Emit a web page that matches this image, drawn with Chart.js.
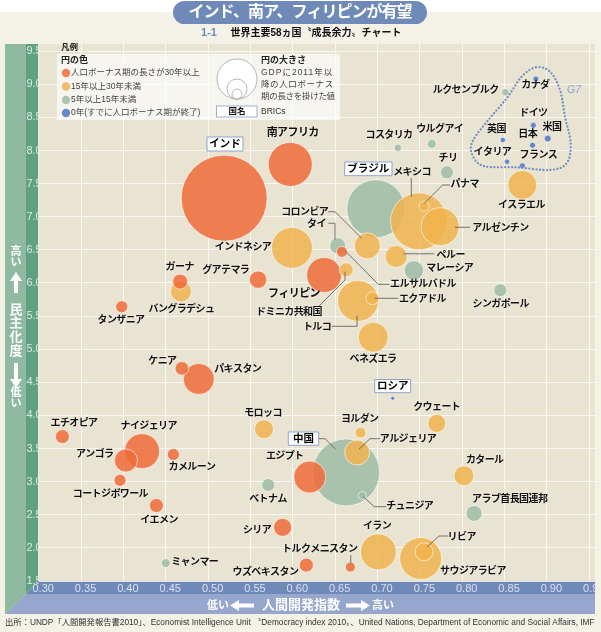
<!DOCTYPE html>
<html><head><meta charset="utf-8">
<style>html,body{margin:0;padding:0;background:#fff}canvas{display:block}</style>
<script src="https://cdn.jsdelivr.net/npm/chart.js@4/dist/chart.umd.min.js"></script>
</head><body><canvas id="c" width="601" height="632"></canvas>
<script>
const countries=["インド","南アフリカ","ルクセンブルク","カナダ","ドイツ","米国","英国","日本","イタリア","フランス","コスタリカ","ウルグアイ","チリ","イスラエル","ブラジル","メキシコ","パナマ","アルゼンチン","コロンビア","タイ","エルサルバドル","インドネシア","フィリピン","ドミニカ共和国","トルコ","エクアドル","ベネズエラ","ペルー","マレーシア","シンガポール","グアテマラ","ガーナ","バングラデシュ","タンザニア","ケニア","パキスタン","ロシア","モロッコ","エチオピア","ナイジェリア","アンゴラ","カメルーン","コートジボワール","イエメン","ベトナム","シリア","ミャンマー","ヨルダン","クウェート","アルジェリア","中国","エジプト","チュニジア","カタール","アラブ首長国連邦","イラン","サウジアラビア","リビア","トルクメニスタン","ウズベキスタン"];
const hdi=[.519,.597,.851,.887,.884,.901,.848,.883,.853,.871,.724,.764,.782,.871,.698,.749,.755,.774,.688,.653,.658,.599,.637,.663,.677,.694,.695,.722,.743,.845,.559,.467,.468,.398,.469,.489,.718,.566,.328,.422,.403,.459,.396,.439,.571,.588,.450,.680,.770,.676,.663,.620,.682,.802,.814,.701,.751,.755,.668,.616];
const democracy=[7.28,7.79,8.88,9.08,8.38,8.18,8.16,8.08,7.83,7.77,8.04,8.10,7.67,7.48,7.12,6.93,7.16,6.85,6.56,6.56,6.47,6.53,6.12,6.20,5.73,5.77,5.18,6.40,6.19,5.89,6.05,6.02,5.87,5.64,4.71,4.55,4.26,3.79,3.68,3.46,3.32,3.41,3.02,2.64,2.95,2.31,1.77,3.74,3.88,3.44,3.14,3.07,2.79,3.09,2.52,1.94,1.84,1.94,1.71,1.74];
const growthScore=[1849,484,14,9,9,12,7,9,7,9,14,20,42,210,841,812,25,361,169,64,30,420,306,49,420,42,225,121,94,42,76,56,110,36,46,240,4,90,49,306,132,36,36,49,42,81,20,30,81,156,1122,256,16,100,64,324,441,81,25,49];
const bonusGroup=[0,0,2,3,3,3,3,3,3,3,2,2,2,1,2,1,1,1,1,2,0,1,0,1,1,1,1,1,2,2,0,0,1,0,0,0,3,1,0,0,0,0,0,0,2,0,2,1,1,1,2,0,2,1,2,1,1,1,0,0];
const xTickValues=[.30,.35,.40,.45,.50,.55,.60,.65,.70,.75,.80,.85,.90,.95];
const yTickValues=[1.5,2,2.5,3,3.5,4,4.5,5,5.5,6,6.5,7,7.5,8,8.5,9,9.5];
const legendLabels=["人口ボーナス期の長さが30年以上","15年以上30年未満","5年以上15年未満","0年(すでに人口ボーナス期が終了)"];

const groupColors=["rgba(239,107,58,.85)","rgba(240,180,79,.85)","rgba(158,188,166,.85)","rgba(96,130,195,.95)"];
const CJK='"Liberation Sans","Noto Sans CJK JP"', LAT='"Liberation Sans"';
const labelPos=[["南アフリカ",293,133],["ルクセンブルク",466,90],["カナダ",535.7,85.7],["ドイツ",533.7,113.3],["英国",496.7,129.3],["米国",552.3,127.3],["日本",528,134.3],["イタリア",492.7,152.7],["フランス",538.7,155],["コスタリカ",389.3,135.3],["ウルグアイ",440,129.3],["チリ",448.3,158.3],["メキシコ",412.3,172.3],["パナマ",465,184.7],["イスラエル",521.7,205],["アルゼンチン",500.7,228.3],["コロンビア",305,212],["タイ",316.7,224.7],["インドネシア",243.3,247.7],["ペルー",451,255],["マレーシア",450,268.7],["エルサルバドル",423.3,284.7],["エクアドル",422.7,299],["シンガポール",501,304.3],["フィリピン",294.3,294],["ドミニカ共和国",289.3,312],["トルコ",317.3,327],["ベネズエラ",373.3,359.3],["ガーナ",180,267.7],["グアテマラ",226,270],["バングラデシュ",181.7,309.3],["タンザニア",121.3,320],["ケニア",162.7,361.7],["パキスタン",238,369],["モロッコ",263.3,413.3],["エチオピア",74.3,423.3],["ナイジェリア",149,426],["アンゴラ",95,454.3],["カメルーン",192.3,467.3],["コートジボワール",110.7,494],["イエメン",159.3,520],["ベトナム",268.3,499],["シリア",257.3,530],["ミャンマー",195,562.3],["ウズベキスタン",265.7,572.3],["エジプト",285,456.7],["ヨルダン",360,419.3],["クウェート",437,407.3],["アルジェリア",408.3,439.3],["カタール",485,460],["アラブ首長国連邦",510,499.3],["チュニジア",410,506.3],["イラン",377.3,526.3],["リビア",462,537],["トルクメニスタン",320,549.3],["サウジアラビア",473.3,571.7]];
const bricBoxes=[["インド",207,137,36,14],["ブラジル",344.7,162,47.3,13.7],["ロシア",374.7,379.5,36,13.2],["中国",288.3,432,30.4,13.3]];
const leaders=[
 [[411.3,178],[411.3,197]],[[450,185],[442.7,185],[424.3,203.3]],[[455,227.3],[470,227.3]],
 [[328.3,211.7],[335,211.7],[361.7,238.3]],[[345,250.7],[378.3,284.3],[389.3,284.3]],
 [[374.3,298.3],[398.3,298.3]],[[345,271.7],[345,280],[318.3,306.7]],[[331.7,326.3],[357,326.3],[357,315.7]],
 [[318.7,438.7],[325,438.7],[335.7,449.3]],[[359,449.3],[370,438.7],[380,438.7]],[[363.3,496.7],[374.3,506.7],[386,506.7]],
 [[427.3,546.7],[439,536],[448.3,536]]];
const thickLeaders=[[[328.3,223.3],[335,223.3],[335,240]],[[403.3,253.7],[434.3,253.7]],[[350.7,555],[350.7,565]]];
const g7Loop=[[618,82],[660,95],[690,150],[705,230],[722,310],[710,370],[660,390],[560,382],[460,378],[425,340],[430,300],[475,240],[530,175],[575,110]].map(p=>[p[0]/3+330,p[1]/3+40]);

function poly(ctx,pts,fill){ctx.beginPath();pts.forEach((p,i)=>i?ctx.lineTo(p[0],p[1]):ctx.moveTo(p[0],p[1]));ctx.closePath();ctx.fillStyle=fill;ctx.fill();}
function txt(ctx,s,x,y,font,color,align,sp){ctx.font=font;ctx.fillStyle=color;ctx.textAlign=align||'center';ctx.textBaseline='middle';ctx.letterSpacing=(sp||0)+'px';ctx.fillText(s,x,y);ctx.letterSpacing='0px';}
function arrow(ctx,x0,y0,x1,y1,w,hw,hl){
 const dx=x1-x0,dy=y1-y0,l=Math.hypot(dx,dy),ux=dx/l,uy=dy/l,nx=-uy,ny=ux,bx=x1-ux*hl,by=y1-uy*hl;
 poly(ctx,[[x0+nx*w/2,y0+ny*w/2],[bx+nx*w/2,by+ny*w/2],[bx+nx*hw,by+ny*hw],[x1,y1],[bx-nx*hw,by-ny*hw],[bx-nx*w/2,by-ny*w/2],[x0-nx*w/2,y0-ny*w/2]],'#fff');
}
const fitArea={id:'fitArea',afterLayout(ch){
 const a=ch.chartArea,x=ch.scales.x,y=ch.scales.y;
 a.left=38.7;a.right=595;a.width=595-38.7;
 x.left=38.7;x.right=595;x.width=595-38.7;x._labelItems=null;x.configure();
 y.left=0;y.right=38.7;y.width=38.7;y._labelItems=null;y.configure();
}};
const frame={id:'frame',beforeDraw(ch){
 const c=ch.ctx,a=ch.chartArea;c.save();
 c.fillStyle='#fff';c.fillRect(0,0,601,632);
 c.fillStyle='#F4F1E7';c.fillRect(0,12,601,620);
 c.fillStyle='#E9E3D1';c.fillRect(a.left,a.top,a.right-a.left,a.bottom-a.top);
 poly(c,[[5,a.top],[26,a.top],[26,594],[5,614]],'#8FB9A0');
 poly(c,[[26,a.top],[a.left,a.top],[a.left,a.bottom],[26,594]],'#5FA181');
 poly(c,[[a.left,a.bottom],[a.right,a.bottom],[a.right,594],[26,594]],'#6F8AB8');
 poly(c,[[26,594],[a.right,594],[a.right,614],[5,614]],'#97A6CC');
 c.restore();
}};
const notes={id:'notes',afterDraw(ch){
 const c=ch.ctx;c.save();
 c.fillStyle='#F4F1E7';c.fillRect(595,575,6,30);
 // title
 c.fillStyle='#6F8AB8';c.beginPath();c.roundRect(173,1,254,23,11.5);c.fill();
 txt(c,"インド、南ア、フィリピンが有望",300,12.5,'bold 16px '+CJK,'#fff','center',-1);
 txt(c,"1-1",209,33,'bold 11px '+LAT,'#6F8AB8');
 txt(c,"世界主要58ヵ国〝成長余力〟チャート",316,33,'bold 10px '+CJK,'#111');
 txt(c,"出所：UNDP「人間開発報告書2010」、Economist Intelligence Unit 〝Democracy index 2010〟、United Nations, Department of Economic and Social Affairs, IMF",5,623,'8.3px '+CJK,'#333','left');
 // axis titles
 [["高",252],["い",263]].forEach(t=>txt(c,t[0],16,t[1],'bold 11px '+CJK,'#fff'));
 arrow(c,16,293,16,272,4,6,9);
 [["民",310.5],["主",323.5],["化",337],["度",351]].forEach(t=>txt(c,t[0],16,t[1],'bold 13px '+CJK,'#fff'));
 arrow(c,16,363,16,388,4,6,9);
 [["低",393],["い",404]].forEach(t=>txt(c,t[0],16,t[1],'bold 11px '+CJK,'#fff'));
 txt(c,"低い",218,605.5,'bold 11px '+CJK,'#fff');
 arrow(c,254,605.5,230,605.5,4,5.5,9);
 txt(c,"人間開発指数",301,605.5,'bold 13px '+CJK,'#fff');
 arrow(c,346,605.5,370,605.5,4,5.5,9);
 txt(c,"高い",383,605.5,'bold 11px '+CJK,'#fff');
 // legend
 c.fillStyle='rgba(255,255,255,.65)';c.fillRect(57,54,283,66);
 txt(c,"凡例",61,48,'bold 8.5px '+CJK,'#222','left');
 txt(c,"円の色",61,61,'bold 9px '+CJK,'#222','left');
 [73,86.5,100,113].forEach((y,i)=>{c.beginPath();c.arc(66,y,4.2,0,7);c.fillStyle=groupColors[i];c.fill();
   txt(c,legendLabels[i],71,y,'8.5px '+CJK,'#444','left');});
 c.strokeStyle='#999';c.lineWidth=.7;
 [[79,20],[89,10],[94,5]].forEach(k=>{c.beginPath();c.arc(237,k[0],k[1],0,7);c.fillStyle='#fff';c.fill();c.stroke();});
 txt(c,"円の大きさ",261,61,'bold 9px '+CJK,'#222','left');
 txt(c,"GDPに2011年以",261,73,'8.5px '+CJK,'#444','left',1);
 txt(c,"降の人口ボーナス",261,85,'8.5px '+CJK,'#444','left',.6);
 txt(c,"期の長さを掛けた値",261,97,'8.5px '+CJK,'#444','left',-.3);
 c.fillStyle='#fff';c.fillRect(216.5,106,40.5,11);c.strokeStyle='#9FB0D6';c.lineWidth=1;c.strokeRect(216.5,106,40.5,11);
 txt(c,"国名",237,111.5,'bold 8.5px '+CJK,'#111');
 txt(c,"BRICs",261,112,'8.5px '+LAT,'#333','left');
 // leaders
 c.lineJoin='round';
 const path=p=>{c.beginPath();p.forEach((q,i)=>i?c.lineTo(q[0],q[1]):c.moveTo(q[0],q[1]));c.stroke();};
 c.strokeStyle='#555';c.lineWidth=.8;leaders.forEach(path);
 c.strokeStyle='#8f8f88';c.lineWidth=1.3;thickLeaders.forEach(path);
 // G7 loop
 c.strokeStyle='#6F8CC4';c.lineWidth=2.3;c.lineCap='round';c.setLineDash([0,3.5]);
 c.beginPath();const n=g7Loop.length;c.moveTo(g7Loop[0][0],g7Loop[0][1]);
 for(let i=0;i<n;i++){const p0=g7Loop[(i+n-1)%n],p1=g7Loop[i],p2=g7Loop[(i+1)%n],p3=g7Loop[(i+2)%n];
  c.bezierCurveTo(p1[0]+(p2[0]-p0[0])/6,p1[1]+(p2[1]-p0[1])/6,p2[0]-(p3[0]-p1[0])/6,p2[1]-(p3[1]-p1[1])/6,p2[0],p2[1]);}
 c.stroke();c.setLineDash([]);c.lineCap='butt';
 txt(c,"G7",574,90,'italic 10.5px '+LAT,'#8DA2C8');
 // country labels
 c.shadowColor='rgba(255,255,255,.8)';c.shadowBlur=2;
 labelPos.forEach(l=>txt(c,l[0],l[1]-.3,l[2],'bold '+(l[0]==="南アフリカ"||l[0]==="フィリピン"?11:10)+'px '+CJK,'#111','center',-.6));
 c.shadowBlur=0;
 bricBoxes.forEach(b=>{c.fillStyle='#fff';c.fillRect(b[1],b[2],b[3],b[4]);c.strokeStyle='#8FA3CE';c.lineWidth=1;c.strokeRect(b[1],b[2],b[3],b[4]);
  txt(c,b[0],b[1]+b[3]/2,b[2]+b[4]/2,'bold 10.5px '+CJK,'#000');});
 c.restore();
}};
const order=countries.map((_,i)=>i).sort((a,b)=>growthScore[b]-growthScore[a]);
new Chart(document.getElementById('c'),{
 type:'bubble',
 data:{datasets:[{label:'人間開発指数と民主化度',
  data:order.map(i=>({x:hdi[i],y:democracy[i],r:Math.sqrt(growthScore[i])})),
  backgroundColor:order.map(i=>groupColors[bonusGroup[i]]),
  borderColor:'rgba(255,255,255,.6)',borderWidth:1,clip:false}]},
 options:{responsive:false,animation:false,devicePixelRatio:1,events:[],
  layout:{padding:{top:41,right:6,left:0,bottom:0}},
  plugins:{legend:{display:false},tooltip:{enabled:false}},
  scales:{
   x:{type:'linear',min:.30,max:.9568,
    afterBuildTicks:s=>{s.ticks=xTickValues.map(v=>({value:v}));},
    afterFit:s=>{s.height=51;s.paddingLeft=0;s.paddingRight=0;s.paddingTop=0;s.paddingBottom=0;},
    grid:{color:'rgba(255,255,255,.75)',lineWidth:1,drawTicks:false},border:{display:false},
    ticks:{autoSkip:false,maxRotation:0,padding:1,labelOffset:4.5,color:'#D9E1EE',font:{family:'Liberation Sans',size:11},callback:v=>v.toFixed(2)}},
   y:{type:'linear',min:1.5,max:9.608,
    afterBuildTicks:s=>{s.ticks=yTickValues.map(v=>({value:v}));},
    afterFit:s=>{s.width=38.7;s.paddingLeft=0;s.paddingRight=0;s.paddingTop=0;s.paddingBottom=0;},
    grid:{color:'rgba(255,255,255,.75)',lineWidth:1,drawTicks:false},border:{display:false},
    ticks:{autoSkip:false,padding:-3,color:'#DDE9E0',font:{family:'Liberation Sans',size:11},callback:v=>v.toFixed(1)}}
  }},
 plugins:[fitArea,frame,notes]
});
</script></body></html>
